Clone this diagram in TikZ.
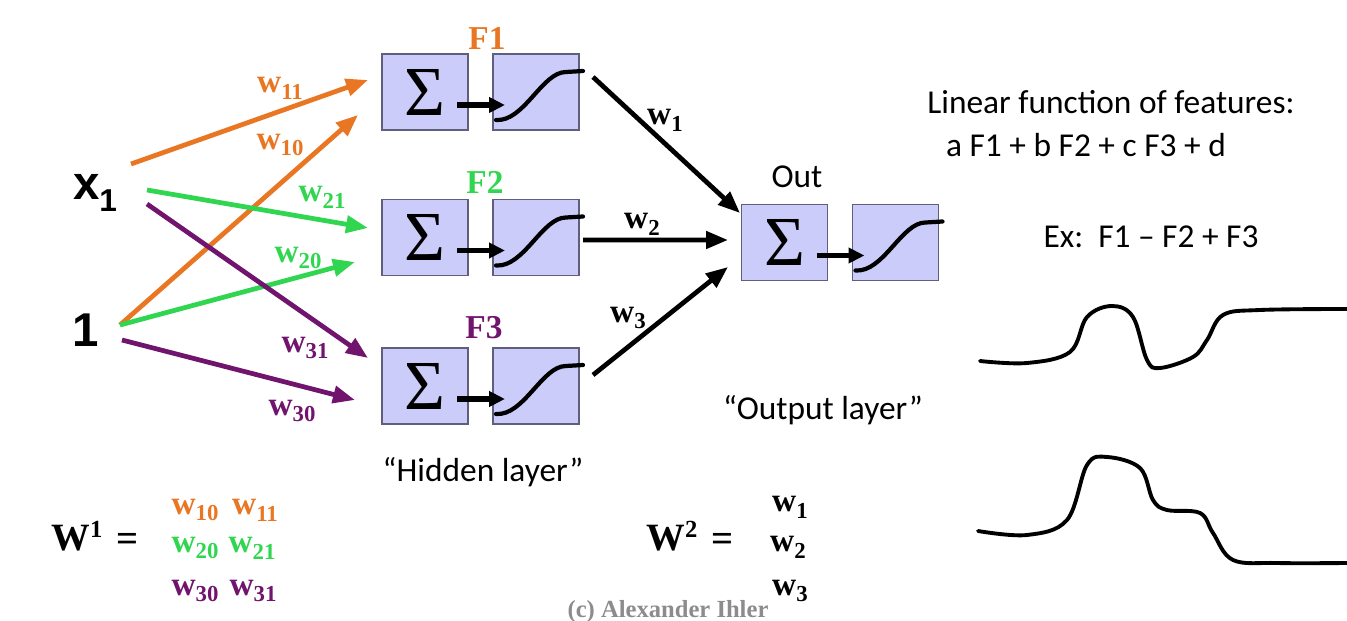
\documentclass[tikz,border=0pt]{standalone}
\usepackage{fontspec}
\setmainfont{Liberation Serif}
\setsansfont{Carlito}
\newfontfamily\arialfont{Liberation Sans}
\usetikzlibrary{arrows.meta,positioning}

\definecolor{wOrange}{RGB}{232,118,34}
\definecolor{wGreen}{RGB}{48,214,80}
\definecolor{wPurple}{RGB}{112,20,110}
\definecolor{boxFill}{RGB}{204,204,250}
\definecolor{boxEdge}{RGB}{95,95,125}

\newcommand{\wsub}[1]{w\raisebox{-0.45ex}{\fontsize{13}{13}\selectfont #1}}
\newcommand{\sigcurve}[1]{%
  \draw[curve] ([shift={(-40,28)}]#1.center) .. controls ([shift={(-12,30)}]#1.center) and ([shift={(6,-20)}]#1.center) .. ([shift={(30,-20)}]#1.center) -- ([shift={(47,-21)}]#1.center);}

\tikzset{
  box/.style={draw=boxEdge, fill=boxFill, line width=0.8pt, minimum width=1.72cm, minimum height=1.52cm, inner sep=0pt},
  sumbox/.style={box, font=\fontsize{40}{40}\selectfont},
  wire/.style={line width=2.7pt, -{Triangle[length=0.44cm,width=0.34cm]}},
  inner/.style={line width=3pt, -{Triangle[length=0.32cm,width=0.3cm]}},
  curve/.style={line width=2.4pt, line cap=round},
  wlabel/.style={font=\fontsize{19}{22}\selectfont\bfseries, inner sep=0pt},
  flabel/.style={font=\fontsize{19}{22}\selectfont\bfseries, inner sep=0pt},
  note/.style={font=\sffamily\fontsize{19}{22}\selectfont, inner sep=0pt},
  bigW/.style={font=\fontsize{22}{24}\selectfont\bfseries, inner sep=0pt},
}

\begin{document}
\begin{tikzpicture}[x=0.02cm, y=-0.02cm]
    \useasboundingbox (0,0) rectangle (1347,621);

    % Inputs
    \node[font=\arialfont\bfseries\fontsize{27}{28}\selectfont, inner sep=0pt] (x1) at (95,193) {x\raisebox{-0.45ex}{\fontsize{18}{18}\selectfont 1}};
    \node[font=\arialfont\bfseries\fontsize{27}{28}\selectfont, inner sep=0pt] (one) at (86,330) {1};

    % Hidden layer boxes
    \node[sumbox] (sum1) at (425,92) {\raisebox{-6pt}{Σ}};
    \node[box] (sig1) at (536,92) {};
    \node[sumbox] (sum2) at (425,237.5) {\raisebox{-6pt}{Σ}};
    \node[box] (sig2) at (536,237.5) {};
    \node[sumbox] (sum3) at (425,386) {\raisebox{-6pt}{Σ}};
    \node[box] (sig3) at (536,386) {};

    % Output boxes
    \node[sumbox] (sumo) at (784.5,242.5) {\raisebox{-6pt}{Σ}};
    \node[box] (sigo) at (895.5,242.5) {};

    % Sum to squashing function
    \draw[inner] ([shift={(32,13)}]sum1.center) -- ([shift={(-31,13)}]sig1.center);
    \draw[inner] ([shift={(32,13)}]sum2.center) -- ([shift={(-31,13)}]sig2.center);
    \draw[inner] ([shift={(32,13)}]sum3.center) -- ([shift={(-31,13)}]sig3.center);
    \draw[inner] ([shift={(32,13)}]sumo.center) -- ([shift={(-31,13)}]sigo.center);
    \sigcurve{sig1}
    \sigcurve{sig2}
    \sigcurve{sig3}
    \sigcurve{sigo}

    % Feature names
    \node[flabel, text=wOrange] (f1) at (487,38) {F1};
    \node[flabel, text=wGreen] (f2) at (485,182) {F2};
    \node[flabel, text=wPurple] (f3) at (484,328) {F3};
    \node[note] (out) at (797,177) {Out};

    % First layer weights
    \draw[wire, wOrange] ([shift={(36,-29)}]x1.center) -- ([shift={(-57,-12)}]sum1.center);
    \draw[wire, wOrange] ([shift={(34,-5)}]one.center) -- ([shift={(-67,23)}]sum1.center);
    \draw[wire, wGreen] ([shift={(52,-3)}]x1.center) -- ([shift={(-57,-9.5)}]sum2.center);
    \draw[wire, wGreen] ([shift={(34,-5)}]one.center) -- ([shift={(-70,24.5)}]sum2.center);
    \draw[wire, wPurple] ([shift={(52,11)}]x1.center) -- ([shift={(-57,-28)}]sum3.center);
    \draw[wire, wPurple] ([shift={(36,10)}]one.center) -- ([shift={(-70,14)}]sum3.center);

    \node[wlabel, text=wOrange] (l11) at (280,88) {\wsub{11}};
    \node[wlabel, text=wOrange] (l10) at (280,145) {\wsub{10}};
    \node[wlabel, text=wGreen] (l21) at (322,197) {\wsub{21}};
    \node[wlabel, text=wGreen] (l20) at (298,258) {\wsub{20}};
    \node[wlabel, text=wPurple] (l31) at (305,348) {\wsub{31}};
    \node[wlabel, text=wPurple] (l30) at (292,411) {\wsub{30}};

    % Second layer weights
    \draw[wire] ([shift={(57,-15)}]sig1.center) -- ([shift={(-44.5,-29.5)}]sumo.center);
    \draw[wire] ([shift={(47,2.5)}]sig2.center) -- ([shift={(-56.5,-2.5)}]sumo.center);
    \draw[wire] ([shift={(57,-11)}]sig3.center) -- ([shift={(-56.5,24.5)}]sumo.center);

    \node[wlabel] (l1) at (665,120) {\wsub{1}};
    \node[wlabel] (l2) at (642,224) {\wsub{2}};
    \node[wlabel] (l3) at (628,318) {\wsub{3}};

    % Layer names and notes
    \node[note] (hid) at (483,472) {“Hidden layer”};
    \node[note] (outl) at (823,410) {“Output layer”};
    \node[note] (lin) at (1111,102) {Linear function of features:};
    \node[note] (lin2) at (1086,145) {a F1 + b F2 + c F3 + d};
    \node[note] (ex) at (1151,237) {Ex:\ \ F1 – F2 + F3};

    % Example outputs
    \draw[curve, line width=2.2pt] plot[smooth, tension=0.6] coordinates {(980,361) (1027,363) (1070,352) (1087,317) (1112,306) (1133,317) (1147,360) (1160,368) (1193,357) (1207,340) (1223,315) (1260,310) (1347,309)};
    \draw[curve, line width=2.2pt] plot[smooth, tension=0.6] coordinates {(978,531) (1027,535) (1067,520) (1087,465) (1107,457) (1140,468) (1153,500) (1167,510) (1200,513) (1213,533) (1233,560) (1277,563) (1347,563)};

    % Weight matrices
    \node[bigW] (W1) at (77,536) {W\raisebox{0.75ex}{\fontsize{14}{14}\selectfont 1}};
    \node[bigW] (eq1) at (128,542) {=};
    \node[wlabel, text=wOrange] (m10) at (195,510) {\wsub{10}};
    \node[wlabel, text=wOrange] (m11) at (255,510) {\wsub{11}};
    \node[wlabel, text=wGreen] (m20) at (195,548) {\wsub{20}};
    \node[wlabel, text=wGreen] (m21) at (252,548) {\wsub{21}};
    \node[wlabel, text=wPurple] (m30) at (195,591) {\wsub{30}};
    \node[wlabel, text=wPurple] (m31) at (253,591) {\wsub{31}};

    \node[bigW] (W2) at (672,536) {W\raisebox{0.75ex}{\fontsize{14}{14}\selectfont 2}};
    \node[bigW] (eq2) at (723,542) {=};
    \node[wlabel] (v1) at (790,507) {\wsub{1}};
    \node[wlabel] (v2) at (788,547) {\wsub{2}};
    \node[wlabel] (v3) at (790,591) {\wsub{3}};

    \node[font=\fontsize{14}{16}\selectfont\bfseries, text=black!45, inner sep=0pt] (copy) at (668,612) {(c) Alexander Ihler};

\end{tikzpicture}
\end{document}
